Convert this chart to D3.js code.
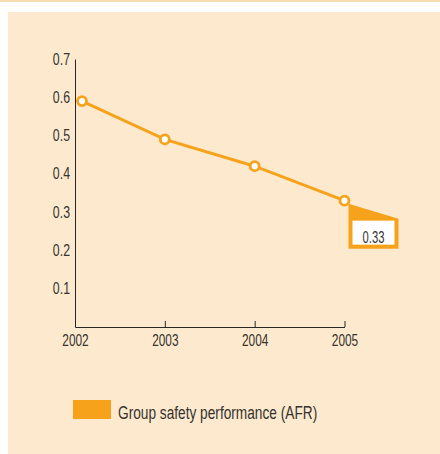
<!DOCTYPE html>
<html>
<head>
<meta charset="utf-8">
<script src="https://cdn.jsdelivr.net/npm/d3@7"></script>
<style>
  body { margin: 0; background: #fff; }
  svg { display: block; }
  text { font-family: "Liberation Sans", Arial, sans-serif; fill: #35322f; }
</style>
</head>
<body>
<div id="chart"></div>
<script>
/* group safety performance (AFR) line chart */

const years = [2002, 2003, 2004, 2005];
const afr = [0.59, 0.49, 0.42, 0.33];
const yTicks = [0.1, 0.2, 0.3, 0.4, 0.5, 0.6, 0.7];
const seriesName = "Group safety performance (AFR)";
const calloutText = "0.33";

const W = 440, H = 454;
const orange = "#f7a21b";

// squeeze text so it looks like the condensed face of the original
function condense(sel, f) {
  sel.each(function () {
    const len = this.getComputedTextLength();
    d3.select(this).attr("textLength", len * f).attr("lengthAdjust", "spacingAndGlyphs");
  });
}

const svg = d3.select("#chart").append("svg")
  .attr("width", W)
  .attr("height", H);

// background panels
svg.append("rect").attr("x", 0).attr("y", 0).attr("width", W).attr("height", 2).attr("fill", "#fbdcb0");
svg.append("rect").attr("x", 8).attr("y", 12).attr("width", W - 8).attr("height", H - 12).attr("fill", "#fdeace");

const xScale = d3.scalePoint().domain(years).range([75, 344.5]);
const yScale = d3.scaleLinear().domain([0, 0.7]).range([327, 59]);

// first point is nudged clear of the y axis like in the original
const px = (d, i) => xScale(d) + (i === 0 ? 7 : 0);

// x axis
const xAxis = svg.append("g")
  .attr("transform", "translate(0," + yScale(0) + ")")
  .call(d3.axisBottom(xScale).tickSizeInner(-6).tickSizeOuter(0).tickPadding(8));
xAxis.select(".domain").attr("stroke", "#2a2623");
xAxis.selectAll(".tick line").attr("stroke", "#2a2623");
xAxis.selectAll(".tick text").style("font-size", "16px").attr("fill", "#35322f").call(condense, 0.74);

// y axis
const yAxis = svg.append("g")
  .attr("transform", "translate(" + xScale(years[0]) + ",0)")
  .call(d3.axisLeft(yScale).tickValues(yTicks).tickSize(0).tickPadding(5).tickFormat(d3.format(".1f")));
yAxis.select(".domain").attr("stroke", "#2a2623");
yAxis.selectAll(".tick text").style("font-size", "16px").attr("fill", "#35322f").call(condense, 0.77);

// line
const line = d3.line()
  .x((d, i) => px(years[i], i))
  .y(d => yScale(d));

svg.append("path")
  .datum(afr)
  .attr("fill", "none")
  .attr("stroke", orange)
  .attr("stroke-width", 3)
  .attr("d", line);

svg.selectAll(".pt")
  .data(afr)
  .join("circle")
  .attr("class", "pt")
  .attr("cx", (d, i) => px(years[i], i))
  .attr("cy", d => yScale(d))
  .attr("r", 4.5)
  .attr("fill", "#fff")
  .attr("stroke", orange)
  .attr("stroke-width", 2.8);

// callout on the last point
const lx = xScale(years[3]), ly = yScale(afr[3]);
const cx0 = lx + 4, cx1 = lx + 54, cTop = ly + 3, cBot = ly + 48;
svg.append("path")
  .attr("d", "M" + cx0 + "," + cTop + "L" + cx1 + "," + (cTop + 15) + "L" + cx1 + "," + cBot + "L" + cx0 + "," + cBot + "Z")
  .attr("fill", orange);
svg.append("rect")
  .attr("x", cx0 + 4)
  .attr("y", cTop + 17)
  .attr("width", cx1 - cx0 - 8)
  .attr("height", cBot - cTop - 21)
  .attr("fill", "#fff");
svg.append("text")
  .attr("x", (cx0 + cx1) / 2)
  .attr("y", cTop + 39)
  .attr("text-anchor", "middle")
  .style("font-size", "16px")
  .text(calloutText)
  .call(condense, 0.7);

// legend
svg.append("rect")
  .attr("x", 73).attr("y", 400)
  .attr("width", 38).attr("height", 19)
  .attr("fill", orange);
svg.append("text")
  .attr("x", 118)
  .attr("y", 419)
  .style("font-size", "18px")
  .text(seriesName)
  .call(condense, 0.76);
</script>
</body>
</html>
